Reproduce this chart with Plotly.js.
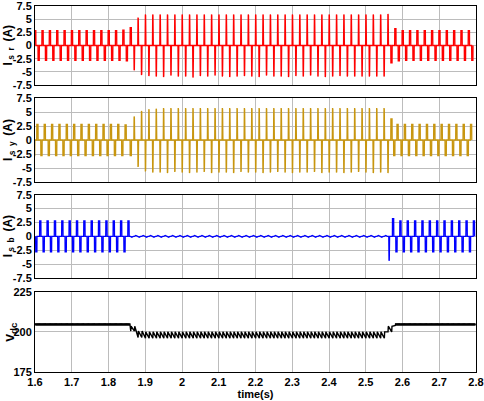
<!DOCTYPE html>
<html><head><meta charset="utf-8">
<script src="https://cdn.plot.ly/plotly-3.0.1.min.js"></script>
<style>html,body{margin:0;padding:0;background:#fff}#chart{width:484px;height:401px}</style>
</head><body><div id="chart"></div>
<script>
// ---- data ----
const tStart = 1.6;          // s, first cycle
const period = 0.02;         // s, 50 Hz supply cycle
const xTicks = [1.6,1.7,1.8,1.9,2.0,2.1,2.2,2.3,2.4,2.5,2.6,2.7,2.8];
const xTickText = ['1.6','1.7','1.8','1.9','2','2.1','2.2','2.3','2.4','2.5','2.6','2.7','2.8'];
const iTicks = [-7.5,-5,-2.5,0,2.5,5,7.5];
const iTickText = ['-7.5','-5','-2.5','0','2.5','5','7.5'];
const vTicks = [175,200,225];
const vTickText = ['175','200','225'];
const yTitles = ['I<sub> s  r </sub> (A)', 'I<sub> s  y </sub> (A)', 'I<sub> s  b </sub> (A)', 'v<sub>dc</sub>'];
const xTitle = 'time(s)';

// peak current of the positive / negative pulse in each 20 ms cycle (A)
const isrPos = [2.8,2.8,2.8,2.8,2.8,2.8,2.8,2.8,2.8,2.8,2.8,2.8,
  2.9,3.4,5.3,
  5.9,5.9,5.9,5.9,5.9,5.9,5.9,5.9,5.9,5.9,5.9,5.9,5.9,5.9,5.9,5.9,5.9,
  5.9,5.9,5.9,5.9,5.9,5.9,5.9,5.9,5.9,5.9,5.9,5.9,5.9,5.9,5.9,5.9,6.0,
  3.2,
  2.8,2.8,2.8,2.8,2.8,2.8,2.8,2.8,2.8,2.8];
const isrNeg = [-2.8,-2.8,-2.8,-2.8,-2.8,-2.8,-2.8,-2.8,-2.8,-2.8,-2.8,-2.8,
  -2.9,-4.7,-5.6,
  -5.8,-5.9,-6.0,-5.7,-5.9,-5.9,-6.1,-5.8,-5.9,-5.7,-5.9,-6.0,-5.9,-5.8,-5.9,-6.0,-5.7,
  -5.9,-5.9,-6.0,-5.8,-5.9,-5.7,-5.9,-6.0,-5.9,-5.8,-5.9,-5.9,-5.9,-5.9,-5.9,-5.9,
  -3.3,-2.9,
  -2.8,-2.8,-2.8,-2.8,-2.8,-2.8,-2.8,-2.8,-2.8,-2.8];
const isyPos = [2.8,2.8,2.8,2.8,2.8,2.8,2.8,2.8,2.8,2.8,2.8,2.8,
  2.7,4.2,5.2,5.5,5.6,
  5.7,5.7,5.7,5.7,5.7,5.7,5.7,5.7,5.7,5.7,5.7,5.7,5.7,5.7,5.7,5.7,
  5.7,5.7,5.7,5.7,5.7,5.7,5.7,5.7,5.7,5.7,5.7,5.7,5.7,5.7,5.7,
  3.75,
  2.8,2.8,2.8,2.8,2.8,2.8,2.8,2.8,2.8,2.8,2.8];
const isyNeg = [-2.8,-2.8,-2.8,-2.8,-2.8,-2.8,-2.8,-2.8,-2.8,-2.8,-2.8,-2.8,-2.8,
  -2.8,-4.8,-5.6,-5.8,
  -5.8,-5.9,-5.7,-5.8,-5.9,-5.8,-5.7,-5.9,-5.8,-5.8,-5.9,-5.7,-5.8,-5.8,-5.9,-5.8,
  -5.7,-5.8,-5.9,-5.8,-5.8,-5.7,-5.9,-5.8,-5.8,-5.9,-5.8,-5.7,-5.8,-5.9,-5.8,-5.9,
  -2.8,-2.8,-2.8,-2.8,-2.8,-2.8,-2.8,-2.8,-2.8,-2.8,-2.8];
const isbPos = [2.8,2.8,2.8,2.8,2.8,2.8,2.8,2.8,2.8,2.8,2.8,2.8,2.8,
  0.15,0.15,0.15,0.15,0.15,0.15,0.15,0.15,0.15,0.15,0.15,0.15,0.15,0.15,0.15,0.15,0.15,0.15,
  0.15,0.15,0.15,0.15,0.15,0.15,0.15,0.15,0.15,0.15,0.15,0.15,0.15,0.15,0.15,0.15,0.15,
  3.2,
  2.8,2.8,2.8,2.8,2.8,2.8,2.8,2.8,2.8,2.8,2.8];
const isbNeg = [-2.8,-2.8,-2.8,-2.8,-2.8,-2.8,-2.8,-2.8,-2.8,-2.8,-2.8,-2.8,-2.8,
  -0.15,-0.15,-0.15,-0.15,-0.15,-0.15,-0.15,-0.15,-0.15,-0.15,-0.15,-0.15,-0.15,-0.15,-0.15,-0.15,-0.15,-0.15,
  -0.15,-0.15,-0.15,-0.15,-0.15,-0.15,-0.15,-0.15,-0.15,-0.15,-0.15,-0.15,-0.15,-0.15,-0.15,-0.15,-0.15,
  -4.4,
  -2.8,-2.8,-2.8,-2.8,-2.8,-2.8,-2.8,-2.8,-2.8,-2.8,-2.8];
// supply mode per cycle: 3 = three-phase, 2 = two-phase (blue open)
const cycleMode = [3,3,3,3,3,3,3,3,3,3,3,3,3,
  2,2,2,2,2,2,2,2,2,2,2,2,2,2,2,2,2,2,2,2,2,2,2,2,2,2,2,2,2,2,2,2,2,2,2,2,
  3,3,3,3,3,3,3,3,3,3,3];
// dc-link voltage ripple envelope per cycle (V)
const vdcHigh = [205.3,205.3,205.3,205.3,205.3,205.3,205.3,205.3,205.3,205.3,205.3,205.3,205.3,
  203.5,200.5,
  200,200,200,200,200,200,200,200,200,200,200,200,200,200,200,200,200,
  200,200,200,200,200,200,200,200,200,200,200,200,200,200,200,200,
  203.5,
  205.3,205.3,205.3,205.3,205.3,205.3,205.3,205.3,205.3,205.3,205.3];
const vdcLow = [204.0,204.0,204.0,204.0,204.0,204.0,204.0,204.0,204.0,204.0,204.0,204.0,204.0,
  200.5,196.5,
  196,196,196,196,196,196,196,196,196,196,196,196,196,196,196,196,196,
  196,196,196,196,196,196,196,196,196,196,196,196,196,196,196,196,
  200,
  204.0,204.0,204.0,204.0,204.0,204.0,204.0,204.0,204.0,204.0,204.0];

// pulse positions inside a cycle (fraction of cycle) per phase and mode
const phaseSets = {
  r: {3: {pos: 0.03, neg: 0.5}, 2: {pos: 0.03, neg: 0.5}},
  y: {3: {pos: 0.33, neg: -0.12}, 2: {pos: 0.5, neg: 0.03}},
  b: {3: {pos: 0.72, neg: 0.18}, 2: {pos: 0.72, neg: 0.18}}
};

function pulseShape(c, A) {
  const a = Math.abs(A);
  if (a < 0.5) return [[c - 0.004, 0], [c, A], [c + 0.004, 0]];
  if (a < 4) {
    const h = 0.0019, r = 0.0003;
    return [[c - h, 0], [c - h + r, A], [c + h - r, A], [c + h, 0]];
  }
  return [[c - 0.001, 0], [c - 0.0003, A], [c + 0.0004, A * 0.97], [c + 0.0013, 0]];
}

function buildCurrent(posAmp, negAmp, key) {
  const pulses = [];
  for (let k = 0; k < posAmp.length; k++) {
    const ph = phaseSets[key][cycleMode[k]];
    pulses.push([tStart + (k + ph.pos) * period, posAmp[k]]);
    pulses.push([tStart + (k + ph.neg) * period, negAmp[k]]);
  }
  pulses.sort((a, b) => a[0] - b[0]);
  const x = [], y = [];
  pulses.forEach(p => pulseShape(p[0], p[1]).forEach(pt => { x.push(pt[0]); y.push(pt[1]); }));
  return {x, y};
}

function buildVdc() {
  const x = [], y = [];
  for (let k = 0; k < vdcHigh.length; k++) {
    const n = cycleMode[k] === 3 ? 6 : 2;
    for (let j = 0; j < n; j++) {
      const p = tStart + (k + 0.03 + j / n) * period;
      x.push(p); y.push(vdcLow[k]);
      x.push(p + 0.0008); y.push(vdcHigh[k]);
    }
  }
  return {x, y};
}

const r = buildCurrent(isrPos, isrNeg, 'r');
const yv = buildCurrent(isyPos, isyNeg, 'y');
const b = buildCurrent(isbPos, isbNeg, 'b');
const v = buildVdc();

const font = {family: 'Liberation Sans Narrow, Arial Narrow, Liberation Sans, Arial, sans-serif', size: 11, color: '#000', weight: 'bold'};
const titleFont = {family: 'Liberation Sans, Arial, sans-serif', size: 11, color: '#000', weight: 'bold'};

const traces = [
  {x: r.x, y: r.y, xaxis: 'x', yaxis: 'y', mode: 'lines', line: {color: '#ff0000', width: 1.3}, hoverinfo: 'skip'},
  {x: yv.x, y: yv.y, xaxis: 'x2', yaxis: 'y2', mode: 'lines', line: {color: '#c8960f', width: 1.3}, hoverinfo: 'skip'},
  {x: b.x, y: b.y, xaxis: 'x3', yaxis: 'y3', mode: 'lines', line: {color: '#0000ff', width: 1.3}, hoverinfo: 'skip'},
  {x: v.x, y: v.y, xaxis: 'x4', yaxis: 'y4', mode: 'lines', line: {color: '#000000', width: 1.4}, hoverinfo: 'skip'}
];

const ML = 35, MR = 8, PW = 484 - ML - MR;

function xAxis(anchor, labels) {
  return {anchor, range: [1.6, 2.8], tickvals: xTicks, ticktext: xTickText, showticklabels: labels,
    showgrid: true, gridcolor: '#bcbcbc', gridwidth: 1, zeroline: false, showline: true, mirror: true,
    linecolor: '#000', linewidth: 1, ticks: '', tickfont: font, ticklabeloverflow: 'allow'};
}
function yAxis(anchor, domain, range, tv, tt) {
  return {anchor, domain, range, tickvals: tv, ticktext: tt, showgrid: true, gridcolor: '#bcbcbc', gridwidth: 1,
    zeroline: false, showline: true, mirror: true, linecolor: '#000', linewidth: 1, ticks: '',
    tickfont: font, ticklabeloverflow: 'allow'};
}
function yTitle(axis, text, size, xpx) {
  return {text, xref: 'paper', x: (xpx - ML) / PW, yref: axis + ' domain', y: 0.5,
    textangle: -90, showarrow: false, xanchor: 'center', yanchor: 'middle',
    font: Object.assign({}, titleFont, {size})};
}

const layout = {
  width: 484, height: 401,
  margin: {l: ML, r: MR, t: 6, b: 29},
  paper_bgcolor: '#fff', plot_bgcolor: '#fff',
  showlegend: false,
  xaxis: xAxis('y', false),
  xaxis2: xAxis('y2', false),
  xaxis3: xAxis('y3', false),
  xaxis4: Object.assign(xAxis('y4', true), {title: {text: xTitle, font: titleFont, standoff: 2}}),
  yaxis: yAxis('x', [0.7842, 1.0], [-7.5, 7.5], iTicks, iTickText),
  yaxis2: yAxis('x2', [0.5191, 0.7486], [-7.5, 7.5], iTicks, iTickText),
  yaxis3: yAxis('x3', [0.2568, 0.4844], [-7.5, 7.5], iTicks, iTickText),
  yaxis4: yAxis('x4', [0, 0.2194], [175, 225], vTicks, vTickText),
  annotations: [
    yTitle('y', yTitles[0], 12, 9),
    yTitle('y2', yTitles[1], 12, 9),
    yTitle('y3', yTitles[2], 12, 9),
    yTitle('y4', yTitles[3], 14, 10)
  ]
};

Plotly.newPlot('chart', traces, layout, {displayModeBar: false, staticPlot: true});
</script></body></html>
